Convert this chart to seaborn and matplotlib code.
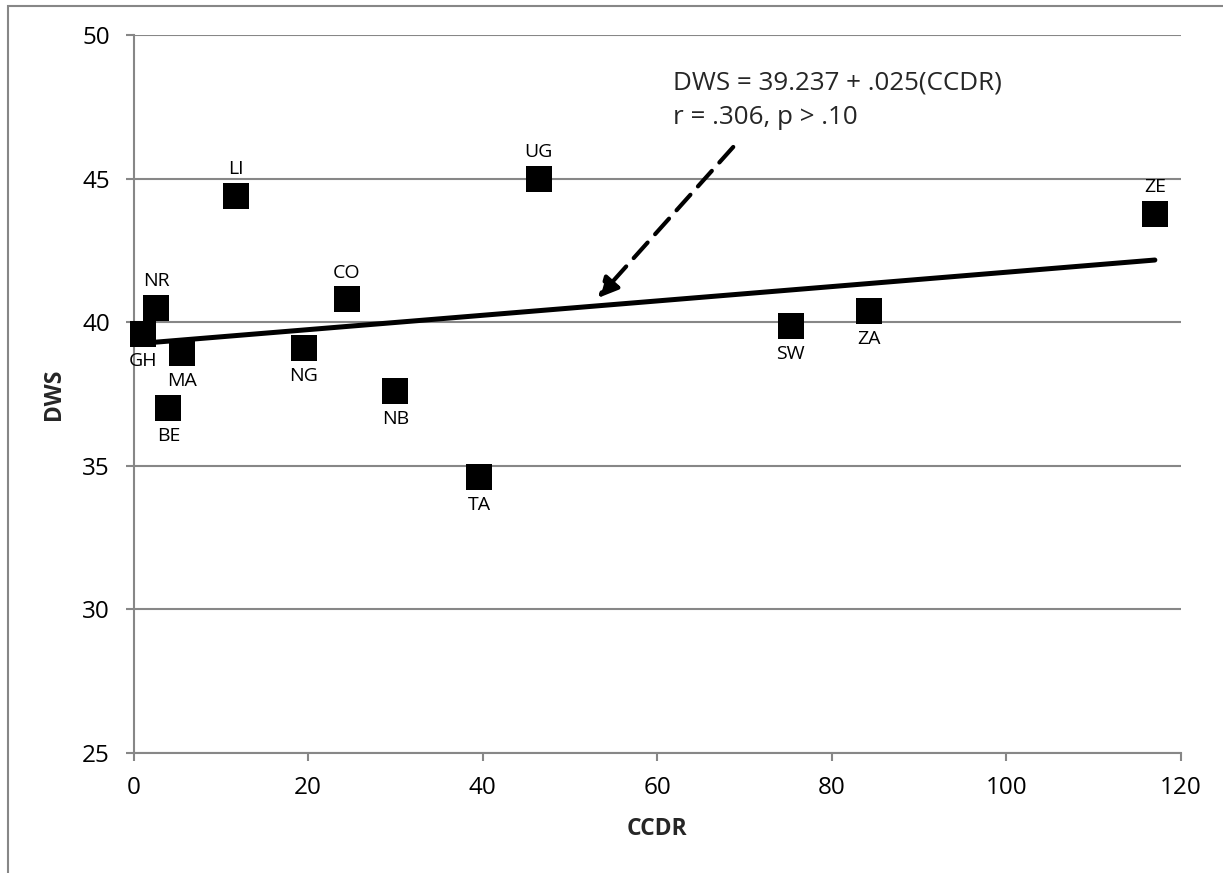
import matplotlib
matplotlib.use("Agg")
import matplotlib.pyplot as plt
import seaborn as sns
import pandas as pd
from matplotlib.patches import Rectangle

# --- dados ---
paises = ['GH', 'NR', 'MA', 'BE', 'LI', 'NG', 'CO', 'NB', 'TA', 'UG', 'SW', 'ZA', 'ZE']
ccdr = [1.1, 2.6, 5.6, 4.0, 11.7, 19.5, 24.4, 30.0, 39.6, 46.4, 75.3, 84.3, 117.0]
dws = [39.60, 40.50, 38.91, 37.00, 44.40, 39.10, 40.79, 37.59, 34.60, 45.00, 39.87, 40.37, 43.78]
lado_rotulo = ['below', 'above', 'below', 'below', 'above', 'below', 'above',
               'below', 'below', 'above', 'below', 'below', 'above']

intercepto = 39.237
inclinacao = 0.025
texto_eq = "DWS = 39.237 + .025(CCDR)\nr = .306, p > .10"

x_ticks = [0, 20, 40, 60, 80, 100, 120]
y_ticks = [25, 30, 35, 40, 45, 50]

df = pd.DataFrame({'pais': paises, 'CCDR': ccdr, 'DWS': dws})
x_min, x_max = df['CCDR'].min(), df['CCDR'].max()
df_reta = pd.DataFrame({'CCDR': [x_min, x_max]})
df_reta['DWS'] = intercepto + inclinacao * df_reta['CCDR']

sns.set_style("white")
plt.rcParams['font.family'] = ['Open Sans', 'DejaVu Sans']

cinza = '#878787'
fig = plt.figure(figsize=(12.23, 8.73), dpi=100)
ax = fig.add_axes([0.1092, 0.1378, 0.8565, 0.8221])

# moldura externa do gráfico
fig.patches.append(Rectangle((0.0065, -0.2), 1.5, 0.9931 + 0.2, transform=fig.transFigure,
                             fill=False, edgecolor=cinza, lw=1.5))

# reta de regressão
sns.lineplot(data=df_reta, x='CCDR', y='DWS', ax=ax, color='black', lw=3.6,
             solid_capstyle='round', zorder=3)

# pontos
sns.scatterplot(data=df, x='CCDR', y='DWS', ax=ax, marker='s', s=330, color='black',
                linewidth=0, zorder=4, clip_on=False)

for p, x, y, lado in zip(paises, ccdr, dws, lado_rotulo):
    dy = 19 if lado == 'above' else -20
    ax.annotate(p, (x, y), xytext=(0, dy), textcoords='offset points',
                ha='center', va='center', fontsize=14, color='black')

# seta tracejada + equação
ax.annotate('', xy=(53.2, 40.84), xytext=(68.7, 46.1),
            arrowprops=dict(arrowstyle='-|>', color='black', lw=3,
                            linestyle=(0, (5, 2.7)), mutation_scale=30,
                            shrinkA=0, shrinkB=0))
ax.text(61.8, 47.74, texto_eq, ha='left', va='center', fontsize=18.7, linespacing=1.5)

ax.set_xlim(0, 120)
ax.set_ylim(25, 50)
ax.set_xticks(x_ticks)
ax.set_yticks(y_ticks)
ax.yaxis.grid(True, color=cinza, lw=1.5)
ax.xaxis.grid(False)
ax.set_axisbelow(True)
for s in ['top', 'right']:
    ax.spines[s].set_visible(False)
for s in ['left', 'bottom']:
    ax.spines[s].set_color(cinza)
    ax.spines[s].set_linewidth(1.5)
ax.tick_params(axis='both', direction='out', length=6, width=1.5, color=cinza,
               labelsize=17.5, labelcolor='black', pad=11)
ax.tick_params(bottom=True, left=True)

ax.set_xlabel("CCDR", fontsize=16.5, fontweight='bold', labelpad=12)
ax.set_ylabel("DWS", fontsize=16.5, fontweight='bold', labelpad=12)

plt.savefig('out.png', dpi=100)
